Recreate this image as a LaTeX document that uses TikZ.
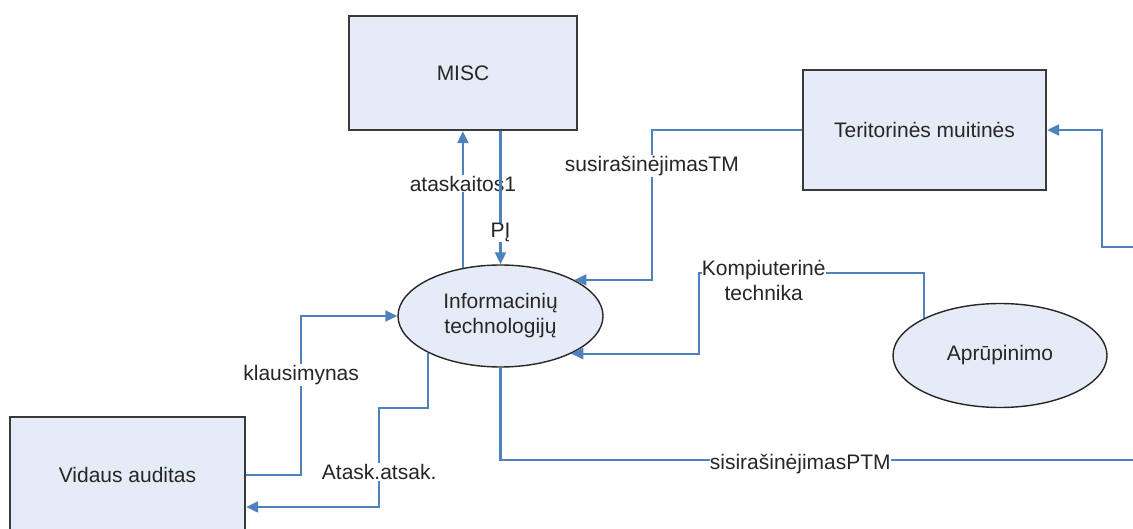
\documentclass[tikz,border=0pt]{standalone}
\usepackage{fontspec}
\setmainfont{Liberation Sans}
\usetikzlibrary{shapes.geometric,arrows.meta,calc}

\definecolor{flowblue}{HTML}{4F81BD}
\definecolor{boxfill}{HTML}{E6ECF7}
\definecolor{boxedge}{HTML}{3A3A3A}
\definecolor{inktext}{HTML}{262626}

\tikzset{
  entity/.style={rectangle, draw=boxedge, line width=2.3pt, fill=boxfill,
    text=inktext, inner sep=0pt},
  process/.style={ellipse, draw=black!85, line width=1.4pt, fill=boxfill,
    text=inktext, inner sep=0pt, align=center},
  flowline/.style={draw=flowblue, line width=2.1pt},
  flow/.style={flowline, -{Triangle[length=12pt,width=11pt]}},
  lbl/.style={fill=white, text=inktext, inner sep=1pt, align=center},
}

\begin{document}
\begin{tikzpicture}[x=1pt, y=-1pt, font=\fontsize{21}{25}\selectfont]
\useasboundingbox (0,0) rectangle (1133,529);

% external entities
\node[entity, minimum width=228pt, minimum height=114pt] (misc) at (463,73) {MISC};
\node[entity, minimum width=243pt, minimum height=120pt] (ter) at (924.5,130) {Teritorinės muitinės};
\node[entity, minimum width=235pt, minimum height=116pt] (vid) at (127.5,475) {Vidaus auditas};

% processes
\node[process, minimum width=205pt, minimum height=102pt] (info) at (500.5,316)
  {Informacinių\\technologijų};
\node[process, minimum width=214pt, minimum height=104pt] (apr) at (1000,355.5) {Aprūpinimo};

% loose ends at the right border
\coordinate (terin) at (1133,247);
\coordinate (ptmout) at (1133,460);
\coordinate (kcorner) at (699,273);

% flows
\draw[flow] (info.128) -- node[lbl, pos=0.617] {ataskaitos1} (info.128 |- misc.south);
\draw[flow] (misc.south -| info.north) -- node[lbl, pos=0.763, inner sep=0pt] {PĮ} (info.north);
\draw[flow] (ter.west) -- ++(-150,0) |- node[lbl, pos=0.119] {susirašinėjimasTM} (info.26);
\draw[flow] (apr.154) |- node[lbl, pos=0.856, yshift=-7pt, inner sep=0pt] {Kompiuterinė\\technika} (kcorner)
  |- (info.332);
\draw[flowline] (info.south) |- node[lbl, pos=0.737, yshift=-4pt, inner sep=0pt] {sisirašinėjimasPTM} (ptmout);
\draw[flow] (terin) -- ++(-31,0) |- (ter.east);
\draw[flow] (vid.east) -- ++(55,0) |- node[lbl, pos=0.315] {klausimynas} (info.west);
\draw[flow] (info.207) |- ++(-49,55.5)
  |- node[lbl, pos=0.323] {Atask.atsak.} ([yshift=-32pt]vid.east);

\end{tikzpicture}
\end{document}
